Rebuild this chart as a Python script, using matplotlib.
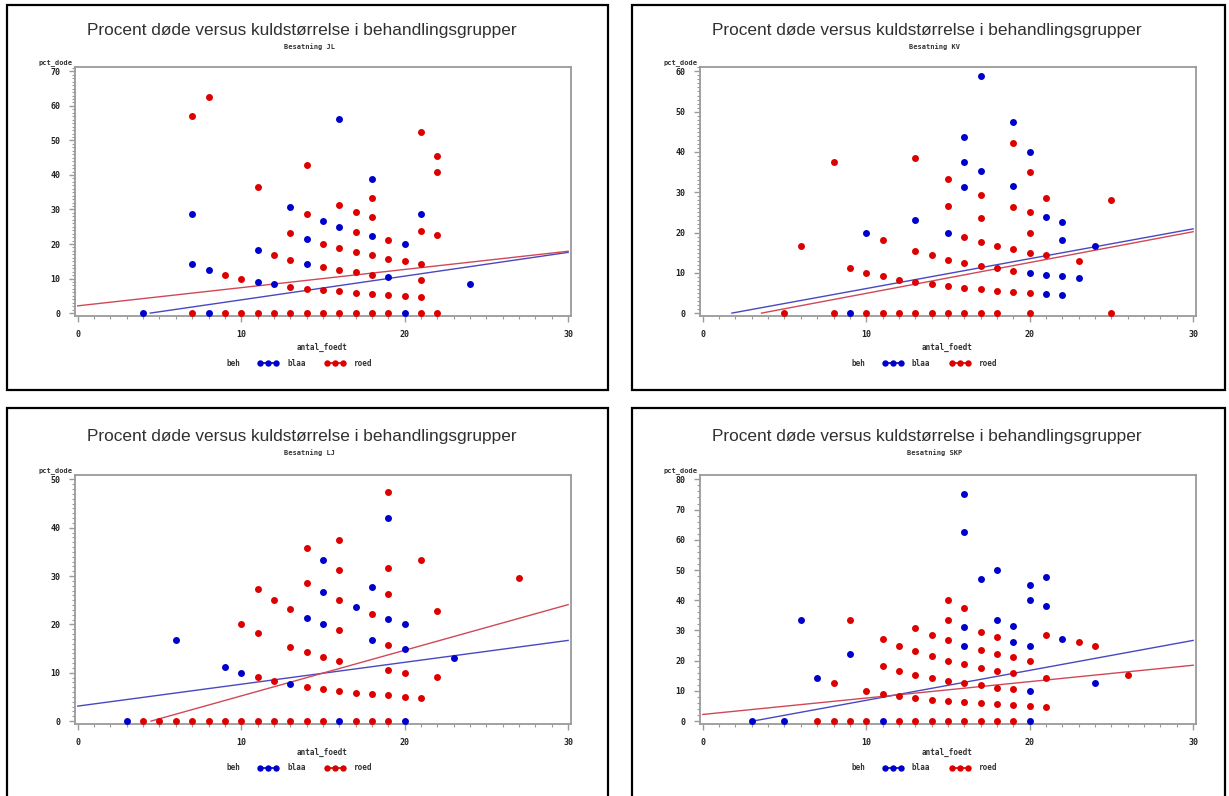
import matplotlib
matplotlib.use("Agg")
import matplotlib.pyplot as plt
import numpy as np
from matplotlib.lines import Line2D
from matplotlib.patches import Rectangle
from matplotlib.ticker import MultipleLocator

# ---------------- data ----------------
panel_names = ["JL", "KV", "LJ", "SKP"]
y_max = [70, 60, 50, 80]

jl_blue_x = [4, 7, 7, 8, 8, 11, 11, 12, 13, 14, 14, 15, 16, 16, 18, 18, 19, 20, 20, 21, 24]
jl_blue_y = [0, 28.6, 14.3, 12.5, 0, 18.2, 9.1, 8.3, 30.8, 21.4, 14.3, 26.7, 56.3, 25.0, 38.9, 22.2, 10.5, 20.0, 0, 28.6, 8.3]
jl_red_x = [7, 7, 8, 9, 9, 10, 10, 11, 11, 12, 12, 13, 13, 13, 13, 14, 14, 14, 14, 15, 15, 15, 15,
            16, 16, 16, 16, 16, 17, 17, 17, 17, 17, 17, 18, 18, 18, 18, 18, 18, 19, 19, 19, 19,
            20, 20, 21, 21, 21, 21, 21, 21, 22, 22, 22, 22]
jl_red_y = [57.1, 0, 62.5, 11.1, 0, 10.0, 0, 36.4, 0, 16.7, 0, 23.1, 15.4, 7.7, 0, 42.9, 28.6, 7.1, 0,
            20.0, 13.3, 6.7, 0, 31.3, 18.8, 12.5, 6.3, 0, 29.4, 23.5, 17.6, 11.8, 5.9, 0,
            33.3, 27.8, 16.7, 11.1, 5.6, 0, 21.1, 15.8, 5.3, 0, 15.0, 5.0,
            52.4, 23.8, 14.3, 9.5, 4.8, 0, 45.5, 40.9, 22.7, 0]

kv_blue_x = [9, 10, 13, 15, 16, 16, 16, 17, 17, 19, 19, 20, 20, 21, 21, 21, 22, 22, 22, 22, 23, 24]
kv_blue_y = [0, 20.0, 23.1, 20.0, 43.8, 37.5, 31.3, 58.8, 35.3, 47.4, 31.6, 40.0, 10.0, 23.8, 9.5, 4.8,
             22.7, 18.2, 9.1, 4.5, 8.7, 16.7]
kv_red_x = [5, 6, 8, 8, 9, 10, 10, 11, 11, 11, 12, 12, 13, 13, 13, 13, 14, 14, 14, 15, 15, 15, 15, 15,
            16, 16, 16, 16, 17, 17, 17, 17, 17, 17, 18, 18, 18, 18, 19, 19, 19, 19, 19,
            20, 20, 20, 20, 20, 20, 21, 21, 23, 25, 25]
kv_red_y = [0, 16.7, 37.5, 0, 11.1, 10.0, 0, 18.2, 9.1, 0, 8.3, 0, 38.5, 15.4, 7.7, 0, 14.3, 7.1, 0,
            33.3, 26.7, 13.3, 6.7, 0, 18.8, 12.5, 6.3, 0, 29.4, 23.5, 17.6, 11.8, 5.9, 0,
            16.7, 11.1, 5.6, 0, 42.1, 26.3, 15.8, 10.5, 5.3,
            35.0, 25.0, 20.0, 15.0, 5.0, 0, 28.6, 14.3, 13.0, 28.0, 0]

lj_blue_x = [3, 6, 9, 10, 13, 14, 15, 15, 15, 16, 17, 18, 18, 19, 19, 20, 20, 20, 23]
lj_blue_y = [0, 16.7, 11.1, 10.0, 7.7, 21.4, 33.3, 26.7, 20.0, 0, 23.5, 27.8, 16.7, 42.1, 21.1, 20.0, 15.0, 0, 13.0]
lj_red_x = [4, 5, 6, 7, 8, 9, 10, 10, 11, 11, 11, 11, 12, 12, 12, 13, 13, 13, 14, 14, 14, 14, 14,
            15, 15, 15, 16, 16, 16, 16, 16, 16, 17, 17, 18, 18, 18, 19, 19, 19, 19, 19, 19, 19,
            20, 20, 21, 21, 22, 22, 27]
lj_red_y = [0, 0, 0, 0, 0, 0, 20.0, 0, 27.3, 18.2, 9.1, 0, 25.0, 8.3, 0, 23.1, 15.4, 0,
            35.7, 28.6, 14.3, 7.1, 0, 13.3, 6.7, 0, 37.5, 31.3, 25.0, 18.8, 12.5, 6.3, 5.9, 0,
            22.2, 5.6, 0, 47.4, 31.6, 26.3, 15.8, 10.5, 5.3, 0, 10.0, 5.0, 33.3, 4.8, 22.7, 9.1, 29.6]

skp_blue_x = [3, 5, 6, 7, 9, 11, 16, 16, 16, 16, 17, 18, 18, 19, 19, 20, 20, 20, 20, 20, 21, 21, 22, 24]
skp_blue_y = [0, 0, 33.3, 14.3, 22.2, 0, 75.0, 62.5, 31.3, 25.0, 47.1, 50.0, 33.3, 31.6, 26.3,
              45.0, 40.0, 25.0, 10.0, 0, 47.6, 38.1, 27.3, 12.5]
skp_red_x = [7, 8, 8, 9, 9, 10, 10, 11, 11, 11, 12, 12, 12, 12, 13, 13, 13, 13, 13,
             14, 14, 14, 14, 14, 15, 15, 15, 15, 15, 15, 15, 16, 16, 16, 16, 16,
             17, 17, 17, 17, 17, 17, 18, 18, 18, 18, 18, 18, 19, 19, 19, 19, 19,
             20, 20, 21, 21, 21, 23, 24, 26]
skp_red_y = [0, 12.5, 0, 33.3, 0, 10.0, 0, 27.3, 18.2, 9.1, 25.0, 16.7, 8.3, 0, 30.8, 23.1, 15.4, 7.7, 0,
             28.6, 21.4, 14.3, 7.1, 0, 40.0, 33.3, 26.7, 20.0, 13.3, 6.7, 0, 37.5, 18.8, 12.5, 6.3, 0,
             29.4, 23.5, 17.6, 11.8, 5.9, 0, 27.8, 22.2, 16.7, 11.1, 5.6, 0, 21.1, 15.8, 10.5, 5.3, 0,
             20.0, 5.0, 28.6, 14.3, 4.8, 26.1, 25.0, 15.4]

# regression lines (intercept, slope)
blue_intercept = [-3.05, -1.32, 3.1, -3.03]
blue_slope = [0.688, 0.741, 0.453, 0.991]
red_intercept = [2.1, -2.75, -4.23, 2.2]
red_slope = [0.527, 0.765, 0.944, 0.543]

blue_x = [jl_blue_x, kv_blue_x, lj_blue_x, skp_blue_x]
blue_y = [jl_blue_y, kv_blue_y, lj_blue_y, skp_blue_y]
red_x = [jl_red_x, kv_red_x, lj_red_x, skp_red_x]
red_y = [jl_red_y, kv_red_y, lj_red_y, skp_red_y]

title_text = "Procent døde versus kuldstørrelse i behandlingsgrupper"
x_label = "antal_foedt"
y_label = "pct_dode"
legend_title = "beh"
legend_labels = ["blaa", "roed"]

# ---------------- layout ----------------
W, H = 1229, 796
fig = plt.figure(figsize=(W / 100, H / 100), dpi=100)
fig.patch.set_facecolor("white")

BLUE = "#0000cc"
RED = "#dd0000"
BLUE_LINE = "#4848c0"
RED_LINE = "#d04858"
GRAY = "#9a9a9a"
MONO = "DejaVu Sans Mono"

def fx(px):
    return px / W

def fy(py):
    return 1 - py / H

col_off = [0, 625]
row_info = [
    dict(btop=5, bbot=390, atop=67, abot=316, ty=31, sy=47, xl=347, lg=363),
    dict(btop=408, bbot=820, atop=475, abot=724, ty=437, sy=453, xl=752, lg=768),
]

for i in range(4):
    r, c = divmod(i, 2)
    ri = row_info[r]
    off = col_off[c]
    # panel border
    bl = 7 + off
    br = 608 if c == 0 else 1225
    fig.add_artist(Rectangle((fx(bl), fy(ri["bbot"])), fx(br - bl), (ri["bbot"] - ri["btop"]) / H,
                             transform=fig.transFigure, fill=False, ec="black", lw=1.6, clip_on=False))
    ax_l, ax_r = 74.5 + off, 570.6 + off
    ax = fig.add_axes([fx(ax_l), fy(ri["abot"]), fx(ax_r - ax_l), (ri["abot"] - ri["atop"]) / H])
    ym = y_max[i]
    ax.set_xlim(-0.2, 30.15)
    ax.set_ylim(-0.012 * ym, ym * 1.018)

    ax.scatter(blue_x[i], blue_y[i], s=25, color=BLUE, zorder=3, linewidths=0)
    ax.scatter(red_x[i], red_y[i], s=25, color=RED, zorder=3, linewidths=0)

    for b0, b1, col in [(blue_intercept[i], blue_slope[i], BLUE_LINE), (red_intercept[i], red_slope[i], RED_LINE)]:
        xs = max(0.0, -b0 / b1)
        xx = np.array([xs, 30.0])
        ax.plot(xx, b0 + b1 * xx, color=col, lw=1.0, zorder=2)

    for sp in ax.spines.values():
        sp.set_color(GRAY)
        sp.set_linewidth(1.3)
    ax.xaxis.set_major_locator(MultipleLocator(10))
    ax.xaxis.set_minor_locator(MultipleLocator(1))
    ax.yaxis.set_major_locator(MultipleLocator(10))
    ax.yaxis.set_minor_locator(MultipleLocator(1 if ym <= 70 else 2))
    ax.tick_params(which="major", length=4, width=1, color=GRAY, direction="out", pad=6,
                   labelsize=6, labelcolor="#222222")
    ax.tick_params(which="minor", length=2.2, width=0.8, color=GRAY, direction="out")
    for lab in ax.get_xticklabels() + ax.get_yticklabels():
        lab.set_fontfamily(MONO)
        lab.set_fontweight("bold")

    cx = (ax_l + ax_r) / 2
    fig.text(fx(cx - 20.5), fy(ri["ty"]), title_text, ha="center", va="center",
             fontsize=12.4, family="Liberation Sans", color="#303030")
    fig.text(fx(cx - 13), fy(ri["sy"]), "Besatning " + panel_names[i], ha="center", va="center",
             fontsize=5, family=MONO, fontweight="bold", color="#333333")
    fig.text(fx(ax_l - 36), fy(ri["atop"] - 4), y_label, ha="left", va="center",
             fontsize=5, family=MONO, fontweight="bold", color="#333333")
    fig.text(fx(cx), fy(ri["xl"]), x_label, ha="center", va="center",
             fontsize=5.5, family=MONO, fontweight="bold", color="#333333")

    # legend
    ly = fy(ri["lg"])
    fig.text(fx(227 + off), ly, legend_title, ha="left", va="center",
             fontsize=5.5, family=MONO, fontweight="bold", color="#333333")
    for (x0, lab, col, lx) in [(260, legend_labels[0], BLUE, 287), (327, legend_labels[1], RED, 354)]:
        fig.add_artist(Line2D([fx(x0 + off), fx(x0 + 8 + off), fx(x0 + 16 + off)], [ly, ly, ly],
                              transform=fig.transFigure, color=col, marker="o", markersize=4.6,
                              markeredgewidth=0, lw=1.2))
        fig.text(fx(lx + off), ly, lab, ha="left", va="center",
                 fontsize=5.5, family=MONO, fontweight="bold", color="#333333")

fig.savefig("out.png", dpi=100, facecolor="white")
